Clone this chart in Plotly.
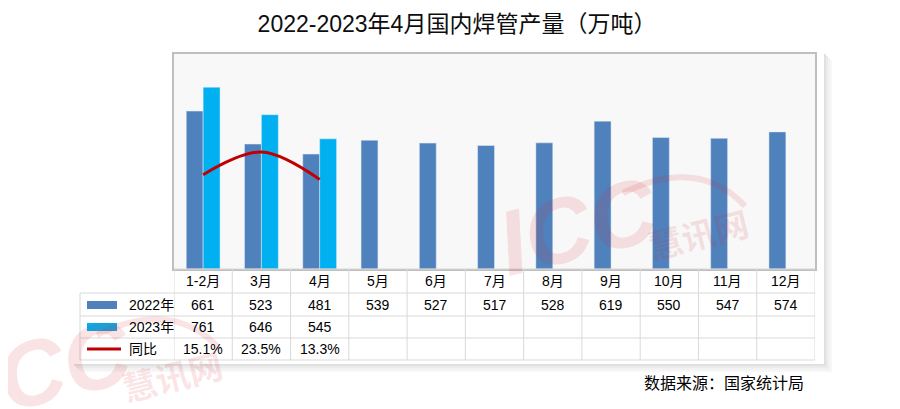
import plotly.graph_objects as go

# 数据
months = ["1-2月", "3月", "4月", "5月", "6月", "7月", "8月", "9月", "10月", "11月", "12月"]
v2022 = [661, 523, 481, 539, 527, 517, 528, 619, 550, 547, 574]
v2023 = [761, 646, 545]
yoy = [15.1, 23.5, 13.3]
series = ["2022年", "2023年", "同比"]

c2022 = "#4F81BD"
c2023 = "#00B0F0"
cline = "#C00000"
grid = "#D9D9D9"
FONT = "Liberation Sans, Noto Sans CJK SC, sans-serif"

# 页面像素 -> paper 坐标 (绘图区 174..815 x 54..269), 页面 body 有 8px 边距
OFF = 8
L, R, T, B = 174, 815, 54, 269
def px(x):
    return (x - L) / (R - L)
def py(y):
    return (B - y) / (B - T)

fig = go.Figure()

fig.add_trace(go.Bar(x=months, y=v2022, name="2022年", marker_color=c2022))
fig.add_trace(go.Bar(x=months[:len(v2023)], y=v2023, name="2023年", marker_color=c2023))
fig.add_trace(go.Scatter(
    x=months[:len(yoy)], y=yoy, name="同比", yaxis="y2", mode="lines",
    line=dict(color=cline, width=3, shape="spline"),
))

shapes = []
annotations = []

# 阴影
for i, a in enumerate([0.12, 0.08, 0.05, 0.03]):
    off = 2 * i
    shapes.append(dict(type="rect", xref="paper", yref="paper", layer="below",
                       x0=px(824 + off), x1=px(826 + off), y0=py(54 + off), y1=py(366 + off),
                       fillcolor=f"rgba(0,0,0,{a})", line_width=0))
    shapes.append(dict(type="rect", xref="paper", yref="paper", layer="below",
                       x0=px(74 + off), x1=px(824 + off), y0=py(364 + off), y1=py(366 + off),
                       fillcolor=f"rgba(0,0,0,{a})", line_width=0))

# 表格行
row_lines = [269, 293, 316, 338, 360]
row_mid = [281, 305, 327, 349]
for k, yl in enumerate(row_lines):
    x0 = px(174) if k == 0 else px(80)
    shapes.append(dict(type="line", xref="paper", yref="paper", x0=x0, x1=1,
                       y0=py(yl), y1=py(yl), line=dict(color=grid, width=1)))
for i in range(len(months) + 1):
    shapes.append(dict(type="line", xref="x", yref="paper", x0=i - 0.5, x1=i - 0.5,
                       y0=0, y1=py(360), line=dict(color=grid, width=1)))
shapes.append(dict(type="line", xref="paper", yref="paper", x0=px(80), x1=px(80),
                   y0=py(293), y1=py(360), line=dict(color=grid, width=1)))

def cell(x, y, text, xref="x", xanchor="center", size=14):
    annotations.append(dict(x=x, y=y, xref=xref, yref="paper", text=text, showarrow=False,
                            xanchor=xanchor, yanchor="middle",
                            font=dict(family=FONT, size=size, color="#000000")))

for i, m in enumerate(months):
    cell(m, py(row_mid[0]), m)
for i, v in enumerate(v2022):
    cell(months[i], py(row_mid[1]), str(v))
for i, v in enumerate(v2023):
    cell(months[i], py(row_mid[2]), str(v))
for i, v in enumerate(yoy):
    cell(months[i], py(row_mid[3]), f"{v:.1f}%")

# 图例列
shapes.append(dict(type="rect", xref="paper", yref="paper", x0=px(87), x1=px(117),
                   y0=py(301), y1=py(309), fillcolor=c2022, line_width=0))
shapes.append(dict(type="rect", xref="paper", yref="paper", x0=px(87), x1=px(117),
                   y0=py(323), y1=py(331), fillcolor=c2023, line_width=0))
shapes.append(dict(type="line", xref="paper", yref="paper", x0=px(87), x1=px(121),
                   y0=py(349), y1=py(349), line=dict(color=cline, width=3)))
cell(px(127), py(row_mid[1]), series[0], xref="paper", xanchor="left")
cell(px(127), py(row_mid[2]), series[1], xref="paper", xanchor="left")
cell(px(127), py(row_mid[3]), series[2], xref="paper", xanchor="left")

# 数据来源
annotations.append(dict(x=px(806), y=py(383), xref="paper", yref="paper", text="数据来源：国家统计局",
                        showarrow=False, xanchor="right", yanchor="middle",
                        font=dict(family=FONT, size=16, color="#000000")))

# 水印
wm = "rgba(215,40,50,0.13)"
for (x, y) in [(578, 226), (52, 368)]:
    annotations.append(dict(x=px(x), y=py(y), xref="paper", yref="paper", text="<b><i>ICC</i></b>",
                            showarrow=False, textangle=-14, xanchor="center", yanchor="middle",
                            font=dict(family="Liberation Sans", size=92, color=wm)))
    annotations.append(dict(x=px(x + 120), y=py(y + 7), xref="paper", yref="paper", text="<b>慧讯网</b>",
                            showarrow=False, textangle=-14, xanchor="center", yanchor="middle",
                            font=dict(family="Noto Sans CJK SC", size=34, color=wm)))
    shapes.append(dict(type="path", xref="paper", yref="paper",
                       path=f"M {px(x + 45)},{py(y - 33)} Q {px(x + 120)},{py(y - 70)} {px(x + 167)},{py(y - 20)}",
                       line=dict(color=wm, width=6)))

fig.update_layout(
    width=900, height=409,
    margin=dict(l=L - OFF, r=900 - R + OFF, t=T - OFF, b=409 - B + OFF),
    paper_bgcolor="white", plot_bgcolor="#F8F8F8",
    barmode="group", bargap=0.42, bargroupgap=0,
    showlegend=False,
    title=dict(text="2022-2023年4月国内焊管产量（万吨）", x=(457 - OFF) / 900, xref="container",
               y=1 - (24 - OFF) / 409, yref="container", xanchor="center", yanchor="middle",
               font=dict(family=FONT, size=23, color="#0D0D0D")),
    xaxis=dict(categoryorder="array", categoryarray=months, range=[-0.5, len(months) - 0.5],
               showticklabels=False, ticks="", showgrid=False, zeroline=False,
               showline=True, mirror=True, linecolor="#BFBFBF", linewidth=2),
    yaxis=dict(range=[0, 900], showticklabels=False, ticks="", showgrid=False, zeroline=False,
               showline=True, mirror=True, linecolor="#BFBFBF", linewidth=2),
    yaxis2=dict(range=[-20, 60], overlaying="y", side="right", visible=False),
    shapes=shapes, annotations=annotations,
)

fig.write_html("out.html")
